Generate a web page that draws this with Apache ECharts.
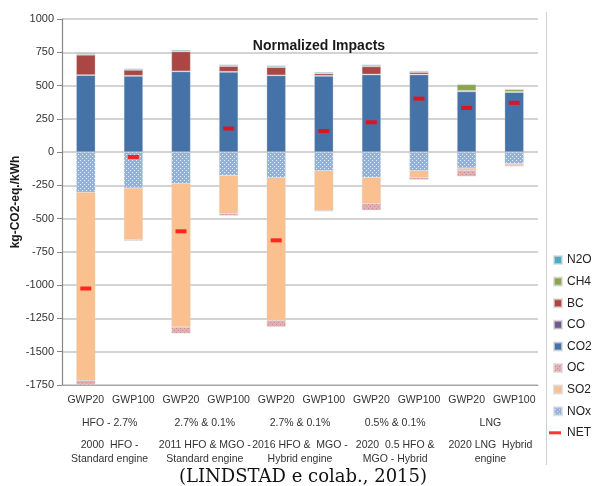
<!DOCTYPE html>
<html>
<head>
<meta charset="utf-8">
<script src="https://cdn.jsdelivr.net/npm/echarts@6/dist/echarts.min.js"></script>
<style>
  html, body { margin: 0; padding: 0; background: #fff; }
  #chart { width: 593px; height: 486px; }
</style>
</head>
<body>
<div id="chart"></div>
<script>
// categorias (eixo x em dois níveis)
const gwpLabels = ['GWP20', 'GWP100', 'GWP20', 'GWP100', 'GWP20', 'GWP100', 'GWP20', 'GWP100', 'GWP20', 'GWP100']
const fuelLabels = ['HFO - 2.7%', '2.7% & 0.1%', '2.7% & 0.1%', '0.5% & 0.1%', 'LNG']
const scenarioLine1 = ['2000  HFO -', '2011 HFO & MGO -', '2016 HFO &  MGO -', '2020  0.5 HFO &', '2020 LNG  Hybrid']
const scenarioLine2 = ['Standard engine', 'Standard engine', 'Hybrid engine', 'MGO - Hybrid', 'engine']

// valores (kg-CO2-eq./kWh)
const co2 = [577, 572, 605, 602, 575, 572, 582, 582, 455, 450]
const co  = [3, 3, 3, 3, 3, 3, 3, 3, 4, 3]
const bc  = [150, 42, 147, 40, 59, 15, 57, 15, 3, 2]
const ch4 = [4, 3, 4, 4, 5, 3, 7, 4, 45, 15]
const n2o = [8, 7, 8, 8, 8, 7, 8, 6, 3, 2]
const nox = [-302, -270, -237, -175, -192, -140, -190, -140, -120, -87]
const so2 = [-1413, -387, -1078, -287, -1073, -297, -197, -52, -17, -10]
const oc  = [-35, -8, -47, -15, -47, -8, -50, -15, -45, -10]
const net = [-1025, -37, -595, 177, -663, 158, 224, 402, 332, 370]

const yTicks = { min: -1750, max: 1000, step: 250 }

function dots (bg, dot) {
  let c = document.createElement('canvas')
  c.width = 4
  c.height = 4
  let g = c.getContext('2d')
  g.fillStyle = bg
  g.fillRect(0, 0, 4, 4)
  g.fillStyle = dot
  g.fillRect(0, 0, 1, 1)
  g.fillRect(2, 2, 1, 1)
  return { image: c, repeat: 'repeat' }
}

const stacked = [
  ['NOx', nox, dots('#93B1DC', '#E4ECF7')],
  ['SO2', so2, '#FAC090'],
  ['OC', oc, dots('#E3AFB3', '#C98B92')],
  ['CO2', co2, '#4572A7'],
  ['CO', co, '#71588F'],
  ['BC', bc, '#AA4643'],
  ['CH4', ch4, '#89A54E'],
  ['N2O', n2o, '#4BACC6']
]

const sq = 'path://M0,0M13,8M5,0h8v8h-8z'
const dash = 'path://M0,0M13,8M0,2.5h12v3h-12z'
const legendOrder = ['N2O', 'CH4', 'BC', 'CO', 'CO2', 'OC', 'SO2', 'NOx']

let series = stacked.map(([name, data, color]) => ({
  name: name,
  type: 'bar',
  stack: 'imp',
  barWidth: 19,
  xAxisIndex: 0,
  itemStyle: { color: color, borderColor: 'rgba(215,215,215,0.7)', borderWidth: 0.5 },
  data: data
}))
series.push({
  name: 'NET',
  type: 'scatter',
  xAxisIndex: 0,
  symbol: 'rect',
  symbolSize: [11, 4],
  itemStyle: { color: '#FF0000' },
  z: 5,
  data: net
})

const font = 'Liberation Sans'
let chart = echarts.init(document.getElementById('chart'))
chart.setOption({
  animation: false,
  textStyle: { fontFamily: font },
  title: {
    text: 'Normalized Impacts',
    left: 314,
    top: 34,
    textAlign: 'center',
    textStyle: { fontFamily: font, fontSize: 14, fontWeight: 'bold', color: '#1a1a1a' }
  },
  grid: { left: 62, right: 55, top: 19, bottom: 101, outerBoundsMode: 'none', containLabel: false },
  legend: {
    orient: 'vertical',
    left: 548,
    top: 253,
    padding: 0,
    itemWidth: 13,
    itemHeight: 8,
    itemGap: 7.6,
    textStyle: { fontFamily: font, fontSize: 12, color: '#222', lineHeight: 14 },
    data: legendOrder.map(n => ({ name: n, icon: sq })).concat([{ name: 'NET', icon: dash }])
  },
  xAxis: [
    {
      type: 'category',
      data: gwpLabels,
      position: 'bottom',
      axisLine: { onZero: false, lineStyle: { color: '#A6A6A6', width: 1.2 } },
      axisTick: { length: 23, lineStyle: { color: '#BFBFBF', width: 1.2 } },
      axisLabel: { interval: 0, margin: 10, fontSize: 10.5, color: '#333' }
    },
    {
      type: 'category',
      data: fuelLabels,
      position: 'bottom',
      axisLine: { show: false, onZero: false },
      axisTick: { length: 80, lineStyle: { color: '#BFBFBF', width: 1.2 } },
      axisLabel: {
        interval: 0,
        margin: 23,
        formatter: (v, i) => '{a|' + v + '}\n{b|' + scenarioLine1[i] + '}\n{b|' + scenarioLine2[i] + '}',
        rich: {
          a: { fontSize: 10.5, lineHeight: 30, color: '#333', fontFamily: font },
          b: { fontSize: 10.5, lineHeight: 14, color: '#333', fontFamily: font }
        }
      }
    }
  ],
  yAxis: {
    type: 'value',
    min: yTicks.min,
    max: yTicks.max,
    interval: yTicks.step,
    name: 'kg-CO2-eq./kWh',
    nameLocation: 'middle',
    nameGap: 40,
    nameMoveOverlap: false,
    nameTextStyle: { fontFamily: font, fontSize: 12, fontWeight: 'bold', color: '#1a1a1a' },
    axisLine: { show: true, lineStyle: { color: '#868686', width: 1.2 } },
    axisTick: { show: true, length: 5, lineStyle: { color: '#868686' } },
    axisLabel: { fontSize: 11, color: '#333', margin: 8, formatter: v => String(v) },
    splitLine: { lineStyle: { color: '#C4C4C4', width: 1.5 } }
  },
  graphic: [
    { type: 'line', shape: { x1: 546.5, y1: 12, x2: 546.5, y2: 465 }, style: { stroke: '#D0D0D0', lineWidth: 1 } },
    {
      type: 'text',
      x: 303,
      y: 477,
      style: {
        text: '(LINDSTAD e colab., 2015)',
        font: '18px "DejaVu Serif"',
        fill: '#111',
        textAlign: 'center',
        textVerticalAlign: 'middle'
      }
    }
  ],
  series: series
})
</script>
</body>
</html>
